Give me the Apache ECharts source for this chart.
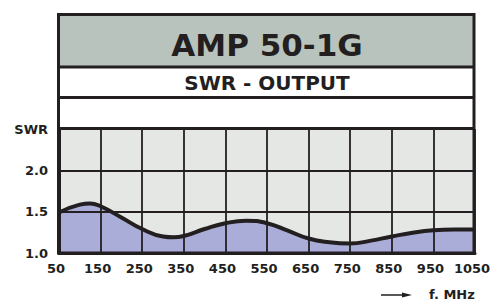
<!DOCTYPE html>
<html><head><meta charset="utf-8">
<script src="https://cdn.jsdelivr.net/npm/echarts@6/dist/echarts.min.js"></script>
<style>html,body{margin:0;padding:0;background:#fff}#c{width:495px;height:300px}</style>
</head><body><div id="c"></div>
<script>
const freqMHz = [50,100,125,150,200,250,300,325,350,400,450,500,550,600,650,700,750,800,850,900,950,1000,1050];
const swr     = [1.49,1.585,1.60,1.565,1.43,1.29,1.20,1.19,1.205,1.29,1.36,1.39,1.36,1.27,1.175,1.13,1.115,1.15,1.20,1.245,1.275,1.285,1.285];
const xStart = 50;
const yTicks = [1.0, 1.5, 2.0, 2.5];
const yTickLabels = ['1.0', '1.5', '2.0', 'SWR'];
const titleText = 'AMP 50-1G';
const subtitleText = 'SWR - OUTPUT';
const unitText = 'f. MHz';

const ink = '#231f20';
const font = 'DejaVu Sans';
const chart = echarts.init(document.getElementById('c'), null, {renderer: 'svg'});
const pts = freqMHz.map((f, i) => [f - xStart, swr[i]]);
chart.setOption({
  animation: false,
  grid: {left: 59, right: 20, top: 129, bottom: 47, show: true, backgroundColor: '#e5e7e5', borderWidth: 0},
  xAxis: {
    type: 'value', min: 0, max: 1000, interval: 100, z: 3,
    axisLine: {show: true, lineStyle: {color: ink, width: 3}},
    axisTick: {show: false},
    splitLine: {show: true, lineStyle: {color: ink, width: 1.8}},
    axisLabel: {color: ink, fontFamily: font, fontWeight: 'bold', fontSize: 13, margin: 9,
      padding: [0, 6, 0, 0],
      formatter: v => String(v + xStart)}
  },
  yAxis: {
    type: 'value', min: yTicks[0], max: yTicks[yTicks.length - 1], interval: 0.5, z: 3,
    axisLine: {show: true, lineStyle: {color: ink, width: 3}},
    axisTick: {show: false},
    splitLine: {show: true, lineStyle: {color: ink, width: 1.8}},
    axisLabel: {color: ink, fontFamily: font, fontWeight: 'bold', fontSize: 13, margin: 11,
      padding: [0, 0, 3, 0],
      formatter: v => { const i = yTicks.findIndex(t => Math.abs(t - v) < 1e-6); return i >= 0 ? yTickLabels[i] : ''; }}
  },
  series: [
    {type: 'line', data: pts, smooth: 0.5, symbol: 'none', z: 2,
     lineStyle: {width: 0, opacity: 0},
     areaStyle: {color: '#aaadd7', opacity: 1, origin: 'start'}},
    {type: 'line', data: pts, smooth: 0.5, symbol: 'none', z: 5,
     lineStyle: {width: 4, color: ink}}
  ],
  graphic: [
    {type: 'rect', shape: {x: 58.5, y: 14.5, width: 416, height: 52.5}, style: {fill: '#b9c3bd'}, z: 10},
    {type: 'rect', shape: {x: 58.5, y: 67, width: 416, height: 62}, style: {fill: '#ffffff'}, z: 10},
    {type: 'line', shape: {x1: 58, y1: 67, x2: 475, y2: 67}, style: {stroke: ink, lineWidth: 3}, z: 11},
    {type: 'line', shape: {x1: 58, y1: 97.5, x2: 475, y2: 97.5}, style: {stroke: ink, lineWidth: 3}, z: 11},
    {type: 'line', shape: {x1: 58, y1: 128.5, x2: 475, y2: 128.5}, style: {stroke: ink, lineWidth: 3}, z: 11},
    {type: 'rect', shape: {x: 58.5, y: 14.5, width: 415.5, height: 238.5}, style: {fill: null, stroke: ink, lineWidth: 3}, z: 11},
    {type: 'text', x: 267, y: 45, z: 12,
     style: {text: titleText, fill: ink, font: 'bold 31px "DejaVu Sans"', textAlign: 'center', textVerticalAlign: 'middle'}},
    {type: 'text', x: 267, y: 83, z: 12,
     style: {text: subtitleText, fill: ink, font: 'bold 20px "DejaVu Sans"', textAlign: 'center', textVerticalAlign: 'middle'}},
    {type: 'line', shape: {x1: 381, y1: 295, x2: 405, y2: 295}, style: {stroke: ink, lineWidth: 1.5}, z: 12},
    {type: 'polygon', shape: {points: [[402, 292.5], [412, 295], [402, 297.5]]}, style: {fill: ink}, z: 12},
    {type: 'text', x: 429, y: 294, z: 12,
     style: {text: unitText, fill: ink, font: 'bold 13px "DejaVu Sans"', textAlign: 'left', textVerticalAlign: 'middle'}}
  ]
});
</script></body></html>
